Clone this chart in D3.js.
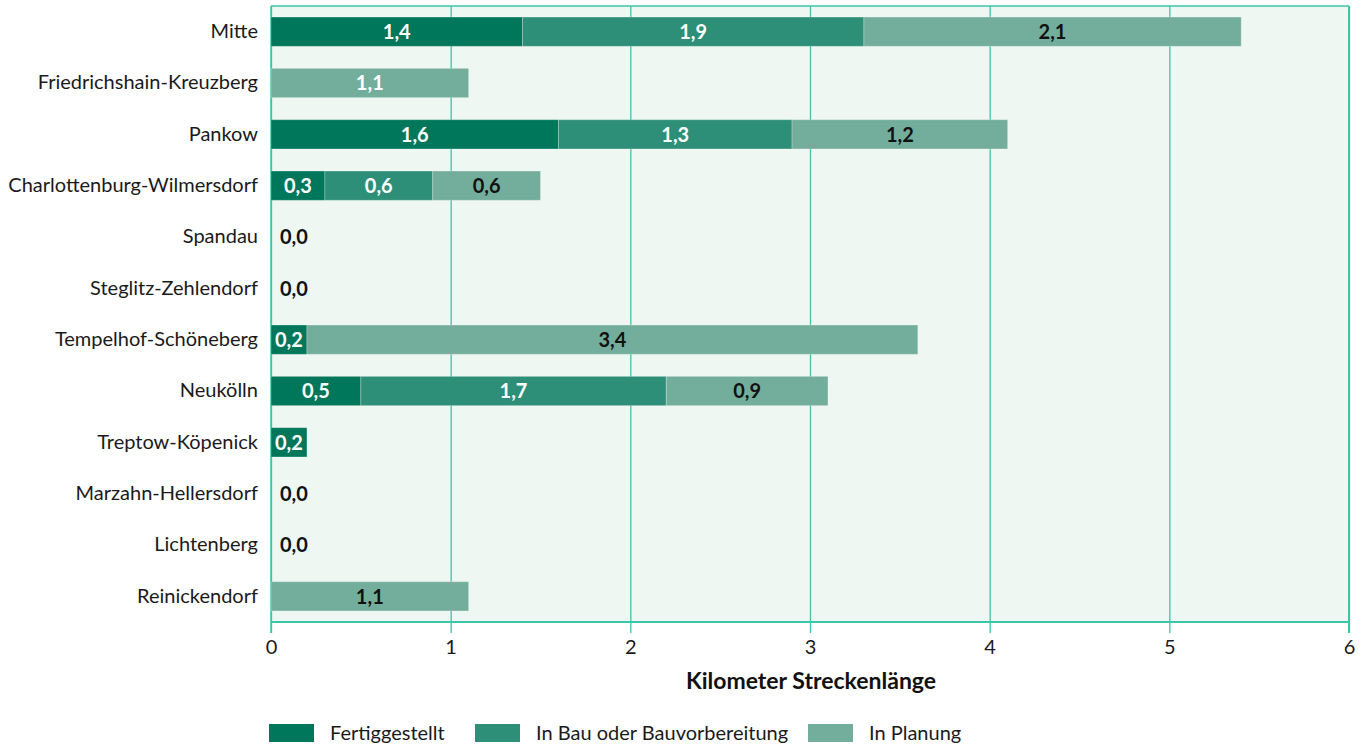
<!DOCTYPE html>
<html lang="de">
<head>
<meta charset="utf-8">
<script src="https://cdn.jsdelivr.net/npm/d3@7"></script>
<style>
  html, body { margin: 0; padding: 0; background: #ffffff; }
  svg { display: block; font-family: Lato, "Open Sans", sans-serif; }
</style>
</head>
<body>
<svg id="chart" width="1366" height="749"></svg>
<script>
// Bezirke (Berlin)
const categories = [
  "Mitte", "Friedrichshain-Kreuzberg", "Pankow", "Charlottenburg-Wilmersdorf",
  "Spandau", "Steglitz-Zehlendorf", "Tempelhof-Schöneberg", "Neukölln",
  "Treptow-Köpenick", "Marzahn-Hellersdorf", "Lichtenberg", "Reinickendorf"
];

// Streckenlänge in km je Status
const fertiggestellt = [1.4, 0, 1.6, 0.3, 0, 0, 0.2, 0.5, 0.2, 0, 0, 0];
const inBau          = [1.9, 0, 1.3, 0.6, 0, 0, 0,   1.7, 0,   0, 0, 0];
const inPlanung      = [2.1, 1.1, 1.2, 0.6, 0, 0, 3.4, 0.9, 0, 0, 0, 1.1];

const seriesNames = ["Fertiggestellt", "In Bau oder Bauvorbereitung", "In Planung"];
const xTicks = [0, 1, 2, 3, 4, 5, 6];
const axisTitle = "Kilometer Streckenlänge";

// ---- Darstellung ----
const colors = ["#00775a", "#2e8f78", "#73ae9c"];
const gridColor = "#3cc5a7";
const textColor = "#1a1a1a";

const svg = d3.select("#chart");
const margin = { top: 6, right: 17, bottom: 127, left: 271 };
const W = 1366, H = 749;
const innerW = W - margin.left - margin.right;
const innerH = H - margin.top - margin.bottom;

const rows = categories.map((c, i) => ({
  category: c,
  [seriesNames[0]]: fertiggestellt[i],
  [seriesNames[1]]: inBau[i],
  [seriesNames[2]]: inPlanung[i]
}));

const stacked = d3.stack().keys(seriesNames)(rows);

const x = d3.scaleLinear().domain([0, 6]).range([0, innerW]);
const y = d3.scaleBand().domain(categories).range([0, innerH]).paddingInner(0.43).paddingOuter(0.215);

const g = svg.append("g").attr("transform", `translate(${margin.left},${margin.top})`);

// Hintergrund der Zeichenfläche
g.append("rect")
  .attr("x", 0).attr("y", 0)
  .attr("width", innerW).attr("height", innerH)
  .attr("fill", "#eef7f2");

// Gitternetz + Achse
const xAxis = d3.axisBottom(x)
  .tickValues(xTicks)
  .tickSize(-(innerH))
  .tickPadding(18)
  .tickFormat(d3.format("d"));

const axisG = g.append("g")
  .attr("transform", `translate(0,${innerH})`)
  .call(xAxis);
axisG.select(".domain").remove();
axisG.selectAll(".tick line")
  .attr("stroke", gridColor)
  .attr("stroke-width", 1.3)
  .attr("y1", 11);
axisG.selectAll(".tick text")
  .attr("fill", textColor)
  .attr("font-size", 20)
  .attr("font-family", "Lato, sans-serif");

// Rahmen: oben, unten, links, rechts
g.append("line").attr("x1", 0).attr("x2", innerW).attr("y1", 0).attr("y2", 0)
  .attr("stroke", gridColor).attr("stroke-width", 1.5);
g.append("line").attr("x1", 0).attr("x2", innerW).attr("y1", innerH).attr("y2", innerH)
  .attr("stroke", gridColor).attr("stroke-width", 2);
g.append("line").attr("x1", 0).attr("x2", 0).attr("y1", 0).attr("y2", innerH + 11)
  .attr("stroke", gridColor).attr("stroke-width", 1.5);
g.append("line").attr("x1", innerW).attr("x2", innerW).attr("y1", 0).attr("y2", innerH + 11)
  .attr("stroke", gridColor).attr("stroke-width", 2);

// Balken
const layer = g.selectAll("g.layer")
  .data(stacked)
  .join("g")
  .attr("class", "layer")
  .attr("fill", (d, i) => colors[i]);

layer.selectAll("rect")
  .data(d => d.map(p => ({ p, key: d.key })))
  .join("rect")
  .filter(d => d.p[1] - d.p[0] > 0)
  .attr("x", d => x(d.p[0]))
  .attr("y", d => y(d.p.data.category))
  .attr("width", d => x(d.p[1]) - x(d.p[0]))
  .attr("height", y.bandwidth())
  .attr("stroke", "#ffffff")
  .attr("stroke-opacity", 0.25)
  .attr("stroke-width", 1);

// Zahlenformat mit Dezimalkomma
const de = d3.formatLocale({ decimal: ",", thousands: ".", grouping: [3], currency: ["", " €"] });
const fmt = de.format(".1f");

// Beschriftung der Segmente
const lightOnPlanung = new Set(["Friedrichshain-Kreuzberg"]);
const labels = [];
stacked.forEach((s, si) => {
  s.forEach(p => {
    const v = p[1] - p[0];
    if (v > 0) {
      const cat = p.data.category;
      const white = si < 2 || lightOnPlanung.has(cat);
      labels.push({ cat, v, x: x((p[0] + p[1]) / 2), color: white ? "#ffffff" : "#111111" });
    }
  });
});

g.selectAll("text.seg")
  .data(labels)
  .join("text")
  .attr("class", "seg")
  .attr("x", d => d.x)
  .attr("y", d => y(d.cat) + y.bandwidth() / 2)
  .attr("dy", "0.36em")
  .attr("text-anchor", "middle")
  .attr("font-size", 20)
  .attr("font-weight", 700)
  .attr("fill", d => d.color)
  .text(d => fmt(d.v));

// Bezirke ohne Strecke
const zeroCats = categories.filter((c, i) => fertiggestellt[i] + inBau[i] + inPlanung[i] === 0);
g.selectAll("text.zero")
  .data(zeroCats)
  .join("text")
  .attr("class", "zero")
  .attr("x", 9)
  .attr("y", d => y(d) + y.bandwidth() / 2)
  .attr("dy", "0.36em")
  .attr("font-size", 20)
  .attr("font-weight", 700)
  .attr("fill", "#111111")
  .text(() => fmt(0));

// Kategorienbeschriftung
const yAxis = d3.axisLeft(y).tickSize(0).tickPadding(13);
const yG = g.append("g").call(yAxis);
yG.select(".domain").remove();
yG.selectAll(".tick text")
  .attr("fill", textColor)
  .attr("font-size", 20)
  .attr("font-family", "Lato, sans-serif");

// Achsentitel
svg.append("text")
  .attr("x", 811)
  .attr("y", 689)
  .attr("text-anchor", "middle")
  .attr("font-size", 23)
  .attr("font-weight", 700)
  .attr("fill", "#111111")
  .text(axisTitle);

// Legende
const legendX = [269, 475, 808];
const legend = svg.append("g");
seriesNames.forEach((name, i) => {
  const lg = legend.append("g").attr("transform", `translate(${legendX[i]},724)`);
  lg.append("rect").attr("width", 45).attr("height", 18).attr("fill", colors[i]);
  lg.append("text")
    .attr("x", 61).attr("y", 9).attr("dy", "0.36em")
    .attr("font-size", 20)
    .attr("fill", textColor)
    .text(name);
});
</script>
</body>
</html>
